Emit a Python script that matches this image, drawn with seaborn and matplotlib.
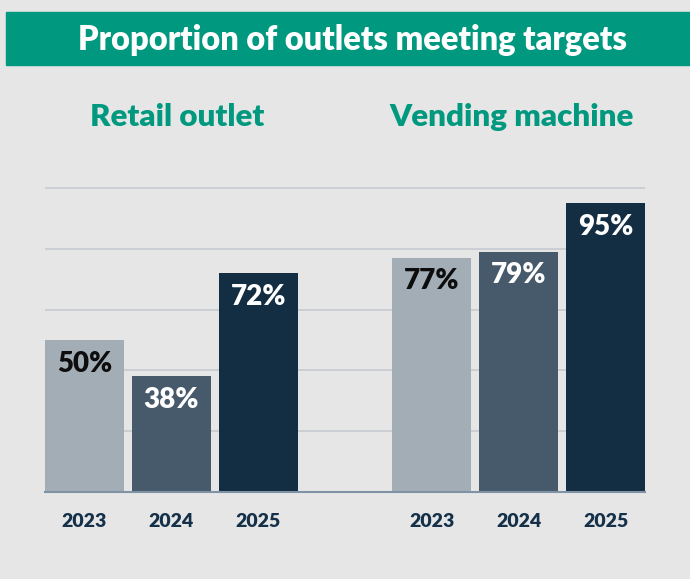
import matplotlib
matplotlib.use("Agg")
import matplotlib.pyplot as plt
from matplotlib.patches import Rectangle
import seaborn as sns
import pandas as pd

# chart data
years = ["2023", "2024", "2025"]
retail = [50, 38, 72]
vending = [77, 79, 95]
groups = ["Retail outlet", "Vending machine"]

bar_colors = {"2023": "#a3adb6", "2024": "#465a6c", "2025": "#132d43"}
label_colors = {"2023": "#0d0d0d", "2024": "white", "2025": "white"}
teal = "#00997f"
bg = "#e6e6e6"


def main():
    rows = []
    for g, vals in zip(groups, [retail, vending]):
        for y, v in zip(years, vals):
            rows.append({"slot": f"{g}|{y}", "year": y, "value": v})
    df = pd.DataFrame(rows)
    # empty slot between the two groups
    order = [f"{groups[0]}|{y}" for y in years] + ["gap"] + [f"{groups[1]}|{y}" for y in years]

    sns.set_theme(style="white")
    plt.rcParams["font.family"] = ["Lato", "DejaVu Sans"]

    fig = plt.figure(figsize=(6.9, 5.79), dpi=100)
    fig.patch.set_facecolor(bg)

    # title banner
    fig.patches.append(Rectangle((6 / 690, 1 - 65 / 579), 1, 53 / 579,
                                 transform=fig.transFigure, color=teal, zorder=0))
    fig.text(352 / 690, 1 - 40 / 579, "Proportion of outlets meeting targets",
             color="white", fontsize=23.5, fontweight="heavy", ha="center", va="center")

    fig.text(177 / 690, 1 - 117 / 579, groups[0], color=teal, fontsize=22.5,
             fontweight="heavy", ha="center", va="center")
    fig.text(512 / 690, 1 - 117 / 579, groups[1], color=teal, fontsize=22.5,
             fontweight="heavy", ha="center", va="center")

    ax = fig.add_axes([45 / 690, 1 - 492 / 579, 600 / 690, 305 / 579])
    ax.set_facecolor(bg)
    sns.barplot(data=df, x="slot", y="value", hue="year", order=order,
                palette=bar_colors, dodge=False, width=0.908, saturation=1,
                linewidth=0, legend=False, ax=ax, zorder=3)

    ax.set_xlim(-0.454, 6.454)
    ax.set_ylim(0, 100.3)
    ax.set_yticks([20, 40, 60, 80, 100])
    ax.yaxis.grid(True, color="#c3c9ce", linewidth=1.1, zorder=0)
    ax.set_axisbelow(True)
    ax.tick_params(axis="y", left=False, labelleft=False)
    for s in ["top", "left", "right"]:
        ax.spines[s].set_visible(False)
    ax.spines["bottom"].set_color("#7f93a5")
    ax.spines["bottom"].set_linewidth(1.5)
    ax.spines["bottom"].set_zorder(4)

    ax.set_xticks(range(7))
    ax.set_xticklabels(years + [""] + years, fontsize=14, fontweight="heavy", color="#15314a")
    ax.tick_params(axis="x", bottom=False, pad=9)
    ax.set_xlabel("")
    ax.set_ylabel("")

    # value labels inside the bars
    for i, slot in enumerate(order):
        if slot == "gap":
            continue
        r = df[df["slot"] == slot].iloc[0]
        ax.annotate(f"{r['value']}%", (i, r["value"]), xytext=(0, -17),
                    textcoords="offset points", ha="center", va="center",
                    fontsize=20, fontweight="heavy", color=label_colors[r["year"]], zorder=5)

    fig.savefig("out.png", dpi=100, facecolor=bg)


if __name__ == "__main__":
    main()
